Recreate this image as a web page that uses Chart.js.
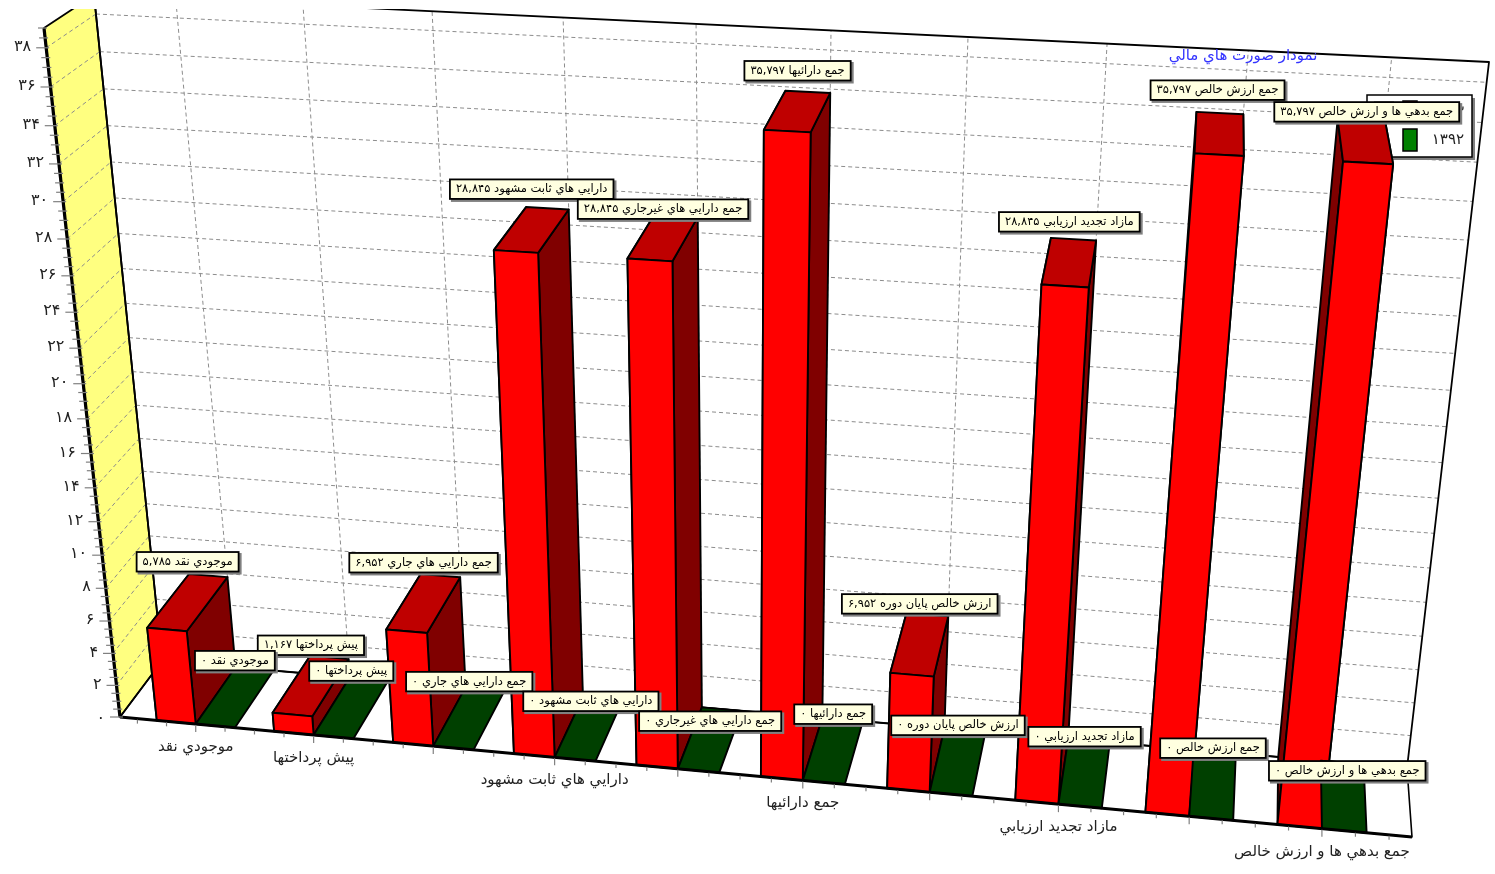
<!DOCTYPE html>
<html>
<head>
<meta charset="utf-8">
<title>نمودار صورت هاي مالي</title>
<style>
  html, body { margin:0; padding:0; background:#fff; }
  #wrap { width:1495px; height:874px; }
</style>
<script src="https://cdn.jsdelivr.net/npm/chart.js@4/dist/chart.umd.min.js"></script>
</head>
<body>
<div id="wrap"><canvas id="chart" width="1495" height="874"></canvas></div>
<script>
// ======== داده ها ========
const categories = ["موجودي نقد","پيش پرداختها","جمع دارايي هاي جاري","دارايي هاي ثابت مشهود","جمع دارايي هاي غيرجاري","جمع دارائيها","ارزش خالص پايان دوره","مازاد تجديد ارزيابي","جمع ارزش خالص","جمع بدهي ها و ارزش خالص"];
const xTickLabels = ["موجودي نقد","پيش پرداختها","","دارايي هاي ثابت مشهود","","جمع دارائيها","","مازاد تجديد ارزيابي","","جمع بدهي ها و ارزش خالص"];
const values1393 = [5785,1167,6952,28845,28845,35797,6952,28845,35797,35797];
const values1392 = [0,0,0,0,0,0,0,0,0,0];
const yTickLabels = ["۰","۲","۴","۶","۸","۱۰","۱۲","۱۴","۱۶","۱۸","۲۰","۲۲","۲۴","۲۶","۲۸","۳۰","۳۲","۳۴","۳۶","۳۸"];
const seriesNames = ["۱۳۹۳","۱۳۹۲"];
const chartTitle = "نمودار صورت هاي مالي";

// === Colors and settings ===
const FONT = '"DejaVu Sans"';
const Y_MAX = 39000, Y_STEP = 2000;
const X_PAD_LEFT = 0.65, X_PAD_RIGHT = 0.67;
const TOP_CLIP = 9;
const barColors = [
  { front:"#ff0000", top:"#bf0000", side:"#800000" },
  { front:"#008000", top:"#004000", side:"#004000" }
];

// corners of the two planes on the page: bottom-left, bottom-right, top-right, top-left
const frontQuad = [[120,717],[1412,837],[1503,102],[44,28]];
const backQuad  = [[162,661],[1407,768],[1489,62],[94,-5]];

// marks the original pushed away from each other: "series:index" -> [dx, dy]
const markShift = {
  "0:4":[0,12], "0:8":[-2,-3], "0:9":[2,11],
  "1:3":[2,9], "1:4":[0,18], "1:9":[4,11]
};

// unit square -> quad
function squareToQuad(q) {
  const [[x0,y0],[x1,y1],[x2,y2],[x3,y3]] = q;
  const dx1 = x1-x2, dx2 = x3-x2, sx = x0-x1+x2-x3;
  const dy1 = y1-y2, dy2 = y3-y2, sy = y0-y1+y2-y3;
  const det = dx1*dy2 - dx2*dy1;
  const g = (sx*dy2 - dx2*sy)/det;
  const h = (dx1*sy - sx*dy1)/det;
  const a = x1-x0+g*x1, b = x3-x0+h*x3, c = x0;
  const d = y1-y0+g*y1, e = y3-y0+h*y3, f = y0;
  return (u,v) => {
    const w = g*u+h*v+1;
    return [(a*u+b*v+c)/w, (d*u+e*v+f)/w];
  };
}
const toFront = squareToQuad(frontQuad);
const toBack = squareToQuad(backQuad);

function faNumber(n) {
  return n.toLocaleString("en-US").replace(/\d/g, d => "۰۱۲۳۴۵۶۷۸۹"[d]);
}

// === 3D drawing on top of Chart.js scales ===
const scene3d = {
  id: "scene3d",
  beforeDatasetsDraw(chart) {
    const ctx = chart.ctx, xs = chart.scales.x, ys = chart.scales.y;
    const step = xs.getPixelForValue(1) - xs.getPixelForValue(0);
    const left = xs.getPixelForValue(0) - X_PAD_LEFT*step;
    const right = xs.getPixelForValue(categories.length-1) + X_PAD_RIGHT*step;
    const bottom = ys.getPixelForValue(0), top = ys.getPixelForValue(Y_MAX);
    const F = (px,py) => toFront((px-left)/(right-left), (py-bottom)/(top-bottom));
    const B = (px,py) => toBack((px-left)/(right-left), (py-bottom)/(top-bottom));

    function poly(pts, fill, lw) {
      ctx.beginPath();
      pts.forEach((p,i) => i ? ctx.lineTo(p[0],p[1]) : ctx.moveTo(p[0],p[1]));
      ctx.closePath();
      if (fill) { ctx.fillStyle = fill; ctx.fill(); }
      ctx.strokeStyle = "#000"; ctx.lineWidth = lw || 1.9; ctx.lineJoin = "round"; ctx.stroke();
    }
    function seg(a, b, color, lw, dash) {
      ctx.beginPath(); ctx.moveTo(a[0],a[1]); ctx.lineTo(b[0],b[1]);
      ctx.strokeStyle = color; ctx.lineWidth = lw; ctx.setLineDash(dash || []); ctx.stroke(); ctx.setLineDash([]);
    }

    ctx.save();
    ctx.beginPath(); ctx.rect(0,TOP_CLIP,chart.width,chart.height-TOP_CLIP); ctx.clip();

    // left wall
    poly([F(left,bottom),B(left,bottom),B(left,top),F(left,top)], "#ffff80", 1.8);

    // back wall grid, one line for every labelled tick above zero
    const dash = [4,3];
    yTickLabels.forEach((t,i) => {
      if (i === 0) return;
      const py = ys.getPixelForValue(i*Y_STEP);
      seg(B(left,py), B(right,py), "#8c8c8c", 1, dash);
      seg(F(left,py), B(left,py), "#8c8c8c", 1, dash);
    });
    categories.forEach((c,i) => {
      const px = xs.getPixelForValue(i);
      seg(B(px,bottom), B(px,top), "#8c8c8c", 1, dash);
    });

    // back wall and floor outlines
    poly([B(left,bottom),B(right,bottom),B(right,top),B(left,top)], null, 1.8);
    poly([F(left,bottom),F(right,bottom),B(right,bottom),B(left,bottom)], null, 1.6);
    ctx.restore();

    // legend sits behind the bars
    drawLegend(ctx, chart);

    ctx.save();
    ctx.beginPath(); ctx.rect(0,TOP_CLIP,chart.width,chart.height-TOP_CLIP); ctx.clip();

    // bars, each as a box from the front plane to the back plane
    const metas = [chart.getDatasetMeta(0), chart.getDatasetMeta(1)];
    const labelBoxes = [[],[]];
    categories.forEach((c,i) => {
      metas.forEach((meta,s) => {
        const bar = meta.data[i], col = barColors[s];
        const x0 = bar.x - bar.width/2, x1 = bar.x + bar.width/2;
        const yt = bar.y, yb = bar.base;
        const fbl = F(x0,yb), fbr = F(x1,yb), ftl = F(x0,yt), ftr = F(x1,yt);
        const bbl = B(x0,yb), bbr = B(x1,yb), btl = B(x0,yt), btr = B(x1,yt);
        if (yb - yt > 0.01) {
          poly([fbl,bbl,btl,ftl], col.side);
          poly([fbr,bbr,btr,ftr], col.side);
        }
        poly([ftl,ftr,btr,btl], col.top);
        if (yb - yt > 0.01) poly([fbl,fbr,ftr,ftl], col.front);
        const shift = markShift[s + ":" + i] || [0,0];
        labelBoxes[s].push({
          x: (ftl[0]+ftr[0]+btl[0]+btr[0])/4 + shift[0],
          y: (ftl[1]+ftr[1]+btl[1]+btr[1])/4 + shift[1],
          text: c + " " + faNumber(chart.data.datasets[s].data[i])
        });
      });
    });

    // thick front axes
    seg(F(left,bottom), F(left,top), "#000", 3.2);
    seg(F(left,bottom), F(right,bottom), "#000", 3.2);
    ctx.restore();

    // y ticks and labels
    ctx.textBaseline = "middle";
    ctx.font = "16px " + FONT;
    ctx.textAlign = "right";
    ctx.direction = "ltr";
    for (let v = 0; v <= Y_MAX; v += Y_STEP/4) {
      const py = ys.getPixelForValue(v), p = F(left,py);
      const major = v % Y_STEP === 0;
      seg([p[0]-(major?10:6), p[1]], [p[0]+3,p[1]], "#808080", 1.2);
      if (major) {
        ctx.fillStyle = "#222";
        ctx.fillText(yTickLabels[v/Y_STEP], p[0]-15, v === 0 ? p[1]+2 : p[1]-1);
      }
    }

    // x ticks and labels
    ctx.textAlign = "center";
    ctx.direction = "rtl";
    for (let k = -2; k <= 38; k++) {
      const idx = k/4, px = xs.getPixelForValue(0) + idx*step, p = F(px,bottom);
      if (px > right) break;
      const major = k % 4 === 0;
      seg([p[0],p[1]+1], [p[0],p[1]+(major?8:5)], "#808080", 1.2);
    }
    ctx.font = "15px " + FONT;
    xTickLabels.forEach((t,i) => {
      if (!t) return;
      const p = F(xs.getPixelForValue(i),bottom);
      ctx.fillStyle = "#222";
      ctx.fillText(t, p[0], p[1]+23);
    });

    // title
    ctx.fillStyle = "#3333ff";
    ctx.fillText(chartTitle, 1243, 56);

    // marks, first series then second
    ctx.font = "11.5px " + FONT;
    labelBoxes.forEach((list,s) => list.forEach(l => {
      const w = ctx.measureText(l.text).width + 12, h = 19.5;
      const bx = l.x - w/2, by = l.y - (s ? 27 : 31) - h;
      ctx.fillStyle = "#808080"; ctx.fillRect(bx+1, by+1, w+2, h+2);
      ctx.fillStyle = "#ffffe0"; ctx.strokeStyle = "#000"; ctx.lineWidth = 1.8;
      ctx.fillRect(bx, by, w, h); ctx.strokeRect(bx, by, w, h);
      ctx.fillStyle = "#000";
      ctx.fillText(l.text, l.x, by+h/2);
    }));
    return false;
  }
};

function drawLegend(ctx, chart) {
  const x = 1367, y = 95, w = 105, h = 62;
  ctx.save();
  ctx.fillStyle = "#808080"; ctx.fillRect(x+3, y+3, w, h);
  ctx.fillStyle = "#fff"; ctx.fillRect(x, y, w, h);
  ctx.strokeStyle = "#000"; ctx.lineWidth = 1.5; ctx.strokeRect(x, y, w, h);
  ctx.fillStyle = "#a0a0a0"; ctx.fillRect(x+7, y+6, 20, 18);
  chart.data.datasets.forEach((ds,i) => {
    const ry = y + 6 + i*28;
    ctx.fillStyle = ds.backgroundColor; ctx.fillRect(x+36, ry, 14, 22);
    ctx.strokeRect(x+36, ry, 14, 22);
    ctx.fillStyle = "#222"; ctx.font = "15px " + FONT;
    ctx.letterSpacing = "2px";
    ctx.textAlign = "right"; ctx.textBaseline = "middle"; ctx.direction = "ltr";
    ctx.fillText(ds.label, x+w-8, ry+11);
    ctx.letterSpacing = "0px";
  });
  ctx.restore();
}

new Chart(document.getElementById("chart"), {
  type: "bar",
  data: {
    labels: categories,
    datasets: [
      { label: seriesNames[0], data: values1393, backgroundColor: barColors[0].front },
      { label: seriesNames[1], data: values1392, backgroundColor: barColors[1].front }
    ]
  },
  options: {
    responsive: false,
    animation: false,
    layout: { padding: 0 },
    datasets: { bar: { categoryPercentage: 2/3, barPercentage: 1 } },
    plugins: { legend: { display:false }, tooltip: { enabled:false }, title: { display:false } },
    scales: {
      x: { display:false },
      y: { display:false, min:0, max:Y_MAX, ticks:{ stepSize:Y_STEP } }
    }
  },
  plugins: [scene3d]
});
</script>
</body>
</html>
